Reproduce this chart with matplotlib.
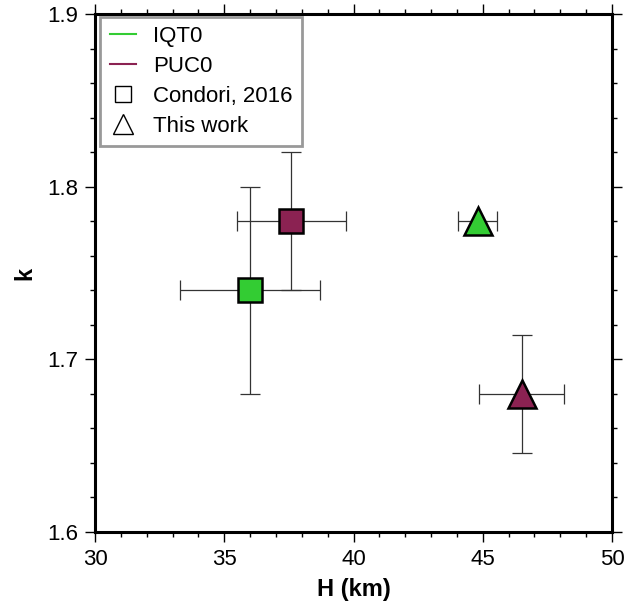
import matplotlib.pyplot as plt
from matplotlib.lines import Line2D
from matplotlib.ticker import MultipleLocator

plt.rcParams['font.family'] = ['Liberation Sans', 'DejaVu Sans']

# Condori (2016) estimates
condori_sta = ['IQT0', 'PUC0']
condori_H = [36.0, 37.6]
condori_Herr = [2.7, 2.1]
condori_k = [1.74, 1.78]
condori_kerr = [0.06, 0.04]

# estimates from this work
work_sta = ['IQT0', 'PUC0']
work_H = [44.8, 46.5]
work_Herr = [0.77, 1.65]
work_k = [1.78, 1.68]
work_kerr = [0.0, 0.034]

colors = {'IQT0': '#33cc33', 'PUC0': '#8b2252'}

fig = plt.figure(figsize=(6.26, 6.10), dpi=100)
ax = fig.add_axes([0.1518, 0.1279, 0.8258, 0.8491])

for i, sta in enumerate(condori_sta):
    ax.errorbar(condori_H[i], condori_k[i], xerr=condori_Herr[i], yerr=condori_kerr[i],
                fmt='none', ecolor='#333333', elinewidth=0.9, capsize=7, capthick=0.9, zorder=2)
    ax.plot(condori_H[i], condori_k[i], marker='s', ms=17, mfc=colors[sta],
            mec='black', mew=1.8, ls='none', zorder=3)

for i, sta in enumerate(work_sta):
    yerr = work_kerr[i] if work_kerr[i] > 0 else None
    ax.errorbar(work_H[i], work_k[i], xerr=work_Herr[i], yerr=yerr,
                fmt='none', ecolor='#333333', elinewidth=0.9, capsize=7, capthick=0.9, zorder=2)
    ax.plot(work_H[i], work_k[i], marker='^', ms=20, mfc=colors[sta],
            mec='black', mew=1.8, ls='none', zorder=3)

ax.set_xlim(30, 50)
ax.set_ylim(1.6, 1.9)
ax.xaxis.set_major_locator(MultipleLocator(5))
ax.xaxis.set_minor_locator(MultipleLocator(1))
ax.yaxis.set_major_locator(MultipleLocator(0.1))
ax.yaxis.set_minor_locator(MultipleLocator(0.02))
ax.tick_params(which='both', direction='out', top=True, right=True,
               labelsize=16, width=1.0, color='black')
ax.tick_params(which='major', length=7, pad=5)
ax.tick_params(which='minor', length=3.5)
ax.yaxis.set_major_formatter(plt.FuncFormatter(lambda v, p: f'{v:.1f}'))
for sp in ax.spines.values():
    sp.set_linewidth(2.2)

ax.set_xlabel('H (km)', fontsize=17, fontweight='bold', labelpad=6)
ax.set_ylabel('k', fontsize=17, fontweight='bold', labelpad=8)

handles = [
    Line2D([], [], color=colors['IQT0'], lw=1.5),
    Line2D([], [], color=colors['PUC0'], lw=1.5),
    Line2D([], [], marker='s', ms=12, mfc='white', mec='black', mew=1.0, ls='none'),
    Line2D([], [], marker='^', ms=14, mfc='white', mec='black', mew=1.0, ls='none'),
]
leg = ax.legend(handles, ['IQT0', 'PUC0', 'Condori, 2016', 'This work'],
                loc='upper left', bbox_to_anchor=(0.01, 0.995), fontsize=16,
                fancybox=False, framealpha=1, edgecolor='#999999',
                handlelength=1.2, handletextpad=0.75, labelspacing=0.4,
                borderpad=0.42, borderaxespad=0.0)
leg.get_frame().set_linewidth(2.0)

fig.savefig('out.png', dpi=100)
